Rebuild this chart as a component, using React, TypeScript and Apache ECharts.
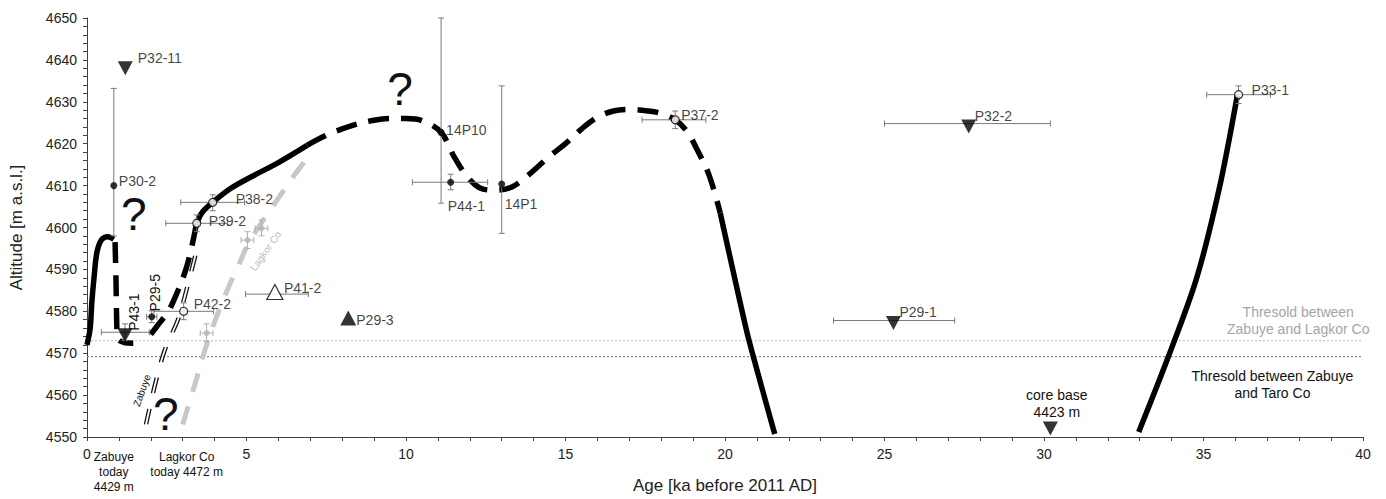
import React, { useEffect, useRef } from "react";
import * as echarts from "echarts";

const FONT = "'Liberation Sans', Arial, sans-serif";

// ---- axis ----
const X_MIN = 0, X_MAX = 40, X_STEP = 1, X_LABEL_EVERY = 5;
const Y_MIN = 4550, Y_MAX = 4650, Y_STEP = 2, Y_LABEL_EVERY = 10;

// ---- lake-level curves [age ka, altitude m] ----
const curveLeftSolid = [[0, 4572], [0.1, 4576], [0.15, 4582], [0.22, 4588], [0.31, 4594], [0.45, 4597], [0.65, 4597.8], [0.84, 4597.2]];
const curveLeftDashed = [[0.88, 4596.5], [0.91, 4587], [0.93, 4578], [0.96, 4573.5], [1.15, 4572.6], [1.45, 4572.4]];
const curveRisingDashed = [[2.0, 4574.5], [2.25, 4577], [2.55, 4580], [2.8, 4584], [3.1, 4590], [3.3, 4596], [3.42, 4600.5]];
const curveMainSolid = [[3.42, 4600.5], [3.6, 4603.5], [3.94, 4606], [4.5, 4609.3], [5.2, 4612.3], [6.0, 4615.5], [6.9, 4619.6]];
const curveMainDashed = [[6.9, 4619.6], [7.5, 4622], [8.3, 4624.3], [9.0, 4625.6], [9.5, 4626], [10.0, 4626], [10.5, 4625.5], [11.1, 4622.7], [11.5, 4617], [11.9, 4612.3], [12.3, 4609.5], [12.8, 4608.9], [13.3, 4609.6], [13.8, 4612.3], [14.5, 4617], [15.0, 4620], [15.5, 4623.5], [16.0, 4626.3], [16.5, 4627.8], [17.0, 4628.2], [17.6, 4627.8], [18.0, 4627.2], [18.44, 4625.7], [18.8, 4623], [19.1, 4619], [19.5, 4612.5], [19.85, 4603.5]];
const curveDescentSolid = [[19.85, 4603.5], [20.72, 4574], [21.56, 4550.7]];
const curveRightSolid = [[32.97, 4551.2], [33.9, 4569.2], [34.78, 4587.8], [35.5, 4609.5], [36.06, 4631.5]];
const curveLagkor = [[3.0, 4553], [3.4, 4563], [3.75, 4572], [4.1, 4579.5], [4.45, 4586], [4.75, 4591], [5.05, 4596], [5.5, 4601.5], [6.0, 4607], [6.5, 4612.5], [6.95, 4617]];
const curveZabuyeOutletA = [[1.8, 4553], [2.1, 4563], [2.4, 4571], [2.8, 4578], [3.1, 4586], [3.4, 4595]];
const curveZabuyeOutletB = [[1.9, 4553], [2.2, 4563], [2.5, 4571], [2.9, 4578], [3.2, 4586], [3.5, 4595]];

// ---- thresholds ----
const thresholdLagkor = 4573;
const thresholdTaro = 4569.2;

// ---- samples [name, age ka, altitude m] ----
const filledDots: [string, number, number][] = [
  ["P30-2", 0.84, 4610],
  ["P29-5", 2.03, 4578.7],
  ["14P10", 11.1, 4622.7],
  ["P44-1", 11.4, 4610.8],
  ["14P1", 13.0, 4610.4],
];
const openCircles: [string, number, number][] = [
  ["P39-2", 3.44, 4601],
  ["P38-2", 3.94, 4606],
  ["P42-2", 3.03, 4580],
  ["P37-2", 18.44, 4625.7],
  ["P33-1", 36.1, 4631.7],
];
const downTriangles: [string, number, number][] = [
  ["P32-11", 1.2, 4638.0],
  ["P43-1", 1.19, 4574.3],
  ["P32-2", 27.64, 4624.1],
  ["P29-1", 25.28, 4577.2],
  ["", 30.2, 4552],
];
const upTrianglesFilled: [string, number, number][] = [["P29-3", 8.19, 4578.4]];
const upTrianglesOpen: [string, number, number][] = [["P41-2", 5.89, 4584.6]];
const grayDots: [number, number][] = [[3.75, 4574.8], [5.03, 4597], [5.47, 4599.8]];

// ---- error bars [x, y, xLow, xHigh, yLow, yHigh] ----
const errorBarsBlack: (number | null)[][] = [
  [0.84, 4610, null, null, 4598, 4633.2],
  [1.19, 4575, 0.45, 1.95, 4573, 4577],
  [2.03, 4578.7, 1.87, 2.19, 4577.3, 4580.1],
  [3.03, 4580, 2.1, 3.97, 4578, 4582],
  [3.44, 4601, 2.47, 4.41, 4599, 4603],
  [3.94, 4606, 2.94, 4.94, 4604, 4607.8],
  [5.89, 4584.1, 4.97, 6.94, null, null],
  [11.1, 4622.7, null, null, 4605.8, 4650],
  [11.4, 4610.8, 10.2, 12.56, 4609, 4612.7],
  [13.0, 4610.4, null, null, 4598.6, 4633.8],
  [18.44, 4625.7, 17.4, 19.4, 4623.6, 4627.8],
  [27.64, 4624.8, 25.0, 30.2, null, null],
  [25.28, 4577.8, 23.4, 27.2, null, null],
  [36.1, 4631.7, 35.1, 37.1, 4629.6, 4633.8],
];
const errorBarsGray: (number | null)[][] = [
  [3.75, 4574.8, 3.55, 3.95, 4572.8, 4577],
  [5.03, 4597, 4.83, 5.23, 4595, 4599],
  [5.47, 4599.8, 5.27, 5.67, 4598, 4601.8],
];

// ---- label placement (style, kept apart from data) ----
const labelOffsets: Record<string, [number, number]> = {
  "P32-11": [12.5, -10], "P30-2": [5, -5], "P38-2": [23, -3], "P39-2": [12, -2],
  "P42-2": [10, -7], "P41-2": [9, -4], "P29-3": [8, 2], "14P10": [5, -2],
  "P44-1": [-3, 24], "14P1": [3, 20], "P37-2": [6, -5], "P32-2": [6, -11],
  "P29-1": [6, -11], "P33-1": [13, -5],
};
const rotatedLabels: Record<string, [number, number]> = { "P43-1": [9, -23], "P29-5": [3, -24] };

// ---- free annotations [text, x, y] ----
const annotations: { text: string; x: number; y: number; size: number; rotate?: number; color?: string; dy?: number; valign?: string; lh?: number }[] = [
  { text: "?", x: 1.47, y: 4603.2, size: 46, lh: 30 },
  { text: "?", x: 9.81, y: 4633.1, size: 46, lh: 30 },
  { text: "?", x: 2.47, y: 4555.5, size: 46, lh: 30 },
  { text: "Zabuye", x: 1.72, y: 4561.1, size: 10, rotate: 70 },
  { text: "Lagkor Co", x: 5.6, y: 4594.4, size: 10, rotate: 55, color: "#bdbdbd" },
  { text: "Thresold between\nZabuye and Lagkor Co", x: 37.97, y: 4577.9, size: 14, color: "#a6a6a6" },
  { text: "Thresold between Zabuye\nand Taro Co", x: 37.16, y: 4562.6, size: 14 },
  { text: "core base\n4423 m", x: 30.4, y: 4557.9, size: 14 },
  { text: "Zabuye\ntoday\n4429 m", x: 0.84, y: 4550, size: 12, dy: 12, valign: "top" },
  { text: "Lagkor Co\ntoday 4472 m", x: 3.125, y: 4550, size: 12, dy: 12, valign: "top" },
];

const lineSeries = (data: number[][], color: string, width: number, type: any, z = 2, smooth: number | boolean = 0.35) => ({
  type: "line",
  data,
  symbol: "none",
  showSymbol: false,
  smooth,
  silent: true,
  z,
  lineStyle: { color, width, type, cap: "butt" },
});

const labelBase = {
  show: true,
  position: "inside",
  align: "left",
  verticalAlign: "middle",
  formatter: "{b}",
  fontSize: 14,
  fontFamily: FONT,
  color: "#111",
};

const toItems = (arr: [string, number, number][]) =>
  arr.map(([name, x, y]) => ({
    name,
    value: [x, y],
    label: rotatedLabels[name] || !name ? { show: false } : { offset: labelOffsets[name] || [6, -6] },
  }));

const errorBarSeries = (bars: (number | null)[][], color: string) => ({
  type: "custom",
  silent: true,
  z: 3,
  data: bars.map((b) => [b[0], b[1]]),
  encode: { x: 0, y: 1 },
  renderItem: (params: any, api: any) => {
    const b = bars[params.dataIndex];
    const [x, y, xl, xh, yl, yh] = b;
    const children: any[] = [];
    const st = { stroke: color, lineWidth: 1 };
    const cap = 3;
    if (xl != null && xh != null) {
      const p1 = api.coord([xl, y]);
      const p2 = api.coord([xh, y]);
      children.push({ type: "line", shape: { x1: p1[0], y1: p1[1], x2: p2[0], y2: p2[1] }, style: st });
      children.push({ type: "line", shape: { x1: p1[0], y1: p1[1] - cap, x2: p1[0], y2: p1[1] + cap }, style: st });
      children.push({ type: "line", shape: { x1: p2[0], y1: p2[1] - cap, x2: p2[0], y2: p2[1] + cap }, style: st });
    }
    if (yl != null && yh != null) {
      const p1 = api.coord([x, yl]);
      const p2 = api.coord([x, yh]);
      children.push({ type: "line", shape: { x1: p1[0], y1: p1[1], x2: p2[0], y2: p2[1] }, style: st });
      children.push({ type: "line", shape: { x1: p1[0] - cap, y1: p1[1], x2: p1[0] + cap, y2: p1[1] }, style: st });
      children.push({ type: "line", shape: { x1: p2[0] - cap, y1: p2[1], x2: p2[0] + cap, y2: p2[1] }, style: st });
    }
    return { type: "group", children };
  },
});

const DASH_BLACK = [21, 12];
const DASH_GRAY = [19, 15];
const DASH_THIN = [16, 16];

export default function App() {
  const ref = useRef<HTMLDivElement>(null);
  useEffect(() => {
    if (!ref.current) return;
    const chart = echarts.init(ref.current, null, { renderer: "svg" });
    const axisColor = "#404040";
    const option: any = {
      animation: false,
      backgroundColor: "#ffffff",
      textStyle: { fontFamily: FONT },
      grid: { left: 83, right: 23, top: 18, bottom: 49, containLabel: false },
      xAxis: {
        type: "value",
        min: X_MIN,
        max: X_MAX,
        interval: X_STEP,
        name: "Age [ka before 2011 AD]",
        nameLocation: "middle",
        nameGap: 40,
        nameTextStyle: { fontSize: 17, color: "#222", fontFamily: FONT },
        axisLine: { show: true, onZero: false, lineStyle: { color: axisColor, width: 1 } },
        axisTick: { show: true, length: 4, inside: false, lineStyle: { color: axisColor } },
        axisLabel: {
          formatter: (v: number) => (Math.round(v) % X_LABEL_EVERY === 0 ? String(Math.round(v)) : ""),
          fontSize: 14,
          color: "#222",
          margin: 10,
          fontFamily: FONT,
          showMinLabel: true,
          showMaxLabel: true,
        },
        splitLine: { show: false },
      },
      yAxis: {
        type: "value",
        min: Y_MIN,
        max: Y_MAX,
        interval: Y_STEP,
        name: "Altitude [m a.s.l.]",
        nameLocation: "middle",
        nameGap: 62,
        nameTextStyle: { fontSize: 17, color: "#222", fontFamily: FONT },
        axisLine: { show: true, onZero: false, lineStyle: { color: axisColor, width: 1 } },
        axisTick: { show: true, length: 4, inside: false, lineStyle: { color: axisColor } },
        axisLabel: {
          formatter: (v: number) => (Math.round(v) % Y_LABEL_EVERY === 0 ? String(Math.round(v)) : ""),
          fontSize: 14,
          color: "#222",
          margin: 10,
          fontFamily: FONT,
        },
        splitLine: { show: false },
      },
      series: [
        lineSeries([[X_MIN, thresholdLagkor], [X_MAX, thresholdLagkor]], "#c4c4c4", 1.2, [2, 2], 1, false),
        lineSeries([[X_MIN, thresholdTaro], [X_MAX, thresholdTaro]], "#8a8a8a", 1.2, [2, 2], 1, false),
        lineSeries(curveLagkor, "#c8c8c8", 5, DASH_GRAY),
        lineSeries(curveZabuyeOutletA, "#111", 1.3, DASH_THIN),
        lineSeries(curveZabuyeOutletB, "#111", 1.3, DASH_THIN),
        lineSeries(curveLeftSolid, "#000", 5.5, "solid"),
        lineSeries(curveLeftDashed, "#000", 5.5, DASH_BLACK),
        lineSeries(curveRisingDashed, "#000", 5.5, DASH_BLACK),
        lineSeries(curveMainSolid, "#000", 5.5, "solid"),
        lineSeries(curveMainDashed, "#000", 5.5, DASH_BLACK),
        lineSeries(curveDescentSolid, "#000", 5.5, "solid", 2, 0.15),
        lineSeries(curveRightSolid, "#000", 5.5, "solid", 2, 0.3),
        errorBarSeries(errorBarsBlack, "#7a7a7a"),
        errorBarSeries(errorBarsGray, "#b0b0b0"),
        {
          type: "scatter", z: 5, silent: true, symbol: "circle", symbolSize: 6,
          itemStyle: { color: "#b5b5b5" }, data: grayDots,
        },
        {
          type: "scatter", z: 6, silent: true, symbol: "circle", symbolSize: 7,
          itemStyle: { color: "#000" }, label: labelBase, data: toItems(filledDots),
        },
        {
          type: "scatter", z: 6, silent: true, symbol: "circle", symbolSize: 8,
          itemStyle: { color: "#fff", borderColor: "#000", borderWidth: 1.2 }, label: labelBase, data: toItems(openCircles),
        },
        {
          type: "scatter", z: 6, silent: true, symbol: "triangle", symbolRotate: 180, symbolSize: [15, 14],
          itemStyle: { color: "#000" }, label: labelBase, data: toItems(downTriangles),
        },
        {
          type: "scatter", z: 6, silent: true, symbol: "triangle", symbolSize: [16, 15],
          itemStyle: { color: "#000" }, label: labelBase, data: toItems(upTrianglesFilled),
        },
        {
          type: "scatter", z: 6, silent: true, symbol: "triangle", symbolSize: [16, 15],
          itemStyle: { color: "#fff", borderColor: "#000", borderWidth: 1.2 }, label: labelBase, data: toItems(upTrianglesOpen),
        },
      ],
    };
    chart.setOption(option);

    const px = (x: number, y: number) => chart.convertToPixel({ gridIndex: 0 }, [x, y]) as number[];
    const elements: any[] = [];
    const allPoints = [...filledDots, ...openCircles, ...downTriangles, ...upTrianglesFilled, ...upTrianglesOpen];
    allPoints.forEach(([name, x, y]) => {
      const off = rotatedLabels[name];
      if (!off) return;
      const p = px(x, y);
      elements.push({
        type: "text", silent: true, z: 100,
        x: p[0] + off[0], y: p[1] + off[1], rotation: Math.PI / 2,
        style: { text: name, fill: "#111", fontSize: 14, fontFamily: FONT, align: "center", verticalAlign: "middle" },
      });
    });
    annotations.forEach((a) => {
      const p = px(a.x, a.y);
      elements.push({
        type: "text", silent: true, z: 100,
        x: p[0], y: p[1] + (a.dy || 0), rotation: ((a.rotate || 0) * Math.PI) / 180,
        style: {
          text: a.text, fill: a.color || "#111", fontSize: a.size, fontFamily: FONT,
          align: "center", verticalAlign: a.valign || "middle", lineHeight: a.lh || Math.round(a.size * 1.22),
        },
      });
    });
    chart.setOption({ graphic: { elements } });
    return () => chart.dispose();
  }, []);
  return (
    <div
      ref={ref}
      style={{ position: "fixed", left: 0, top: 0, width: 1386, height: 499, background: "#fff" }}
    />
  );
}
